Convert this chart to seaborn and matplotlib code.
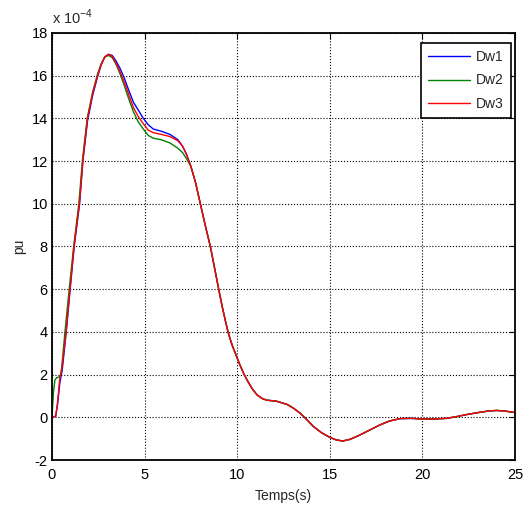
import matplotlib
matplotlib.use("Agg")
import matplotlib.pyplot as plt
import seaborn as sns
import pandas as pd

# time (s) and values in units of 1e-4 pu
# Part where the three curves differ
t_head_13 = [0, 0.2, 0.3, 0.42, 0.55, 0.77, 0.98, 1.2, 1.49, 1.67, 1.92, 2.2, 2.46, 2.65,
             2.85, 3.05, 3.25, 3.45, 3.67, 3.9, 4.15, 4.4, 4.65, 4.93, 5.2, 5.47, 5.9, 6.37,
             6.8, 7.05, 7.27]
dw1_head = [0, 0.05, 0.6, 1.6, 2.2, 4.0, 6.0, 8.0, 10.0, 12.0, 13.9, 15.1, 15.95, 16.5,
            16.88, 17.0, 16.95, 16.7, 16.35, 15.9, 15.3, 14.75, 14.4, 14.0, 13.7, 13.5, 13.4,
            13.25, 13.0, 12.7, 12.3]
dw3_head = [0, 0.05, 0.7, 1.8, 2.4, 4.1, 6.1, 8.1, 10.1, 12.1, 14.0, 15.2, 16.0, 16.5,
            16.88, 17.0, 16.9, 16.6, 16.2, 15.7, 15.1, 14.5, 14.1, 13.75, 13.45, 13.33, 13.25,
            13.15, 12.95, 12.7, 12.3]
t_head_2 = [0, 0.08, 0.16, 0.25, 0.42, 0.5, 0.7, 0.93, 1.17, 1.45, 1.65, 1.9, 2.2, 2.45,
            2.65, 2.85, 3.05, 3.25, 3.45, 3.67, 3.9, 4.15, 4.4, 4.65, 4.93, 5.2, 5.47, 5.9,
            6.37, 6.8, 7.05, 7.27]
dw2_head = [0, 1.2, 1.75, 1.85, 1.9, 2.1, 4.0, 6.0, 8.0, 10.0, 12.1, 14.0, 15.25, 16.05,
            16.55, 16.88, 16.95, 16.85, 16.55, 16.1, 15.55, 14.9, 14.3, 13.85, 13.5, 13.2,
            13.07, 13.0, 12.85, 12.6, 12.4, 12.1]

# Part where the three curves coincide
t_tail = [7.5, 7.75, 8.01, 8.3, 8.55, 8.8, 9.0, 9.2, 9.38, 9.5, 9.62, 9.76, 9.9, 10.1,
          10.35, 10.55, 10.8, 11.07, 11.35, 11.6, 12.1, 12.7, 13.05, 13.4, 13.75, 14.1,
          14.55, 15.0, 15.35, 15.7, 16.1, 16.6, 17.1, 17.7, 18.2, 18.8, 19.4, 20.0, 20.6,
          21.3, 21.9, 22.4, 23.0, 23.6, 24.0, 24.4, 24.7, 25.0]
v_tail = [11.75, 11.0, 10.0, 8.9, 8.0, 6.9, 6.0, 5.15, 4.45, 4.02, 3.66, 3.3, 3.0, 2.55,
          2.05, 1.72, 1.35, 1.05, 0.88, 0.8, 0.76, 0.6, 0.42, 0.19, -0.1, -0.42,
          -0.72, -0.94, -1.06, -1.11, -1.03, -0.84, -0.62, -0.36, -0.18, -0.06, -0.05, -0.08,
          -0.08, -0.05, 0.04, 0.13, 0.22, 0.3, 0.32, 0.3, 0.26, 0.22]

series_names = ["Dw1", "Dw2", "Dw3"]
x_ticks = [0, 5, 10, 15, 20, 25]
y_ticks = [-2, 0, 2, 4, 6, 8, 10, 12, 14, 16, 18]

sns.set_style("white")
plt.rcParams['font.family'] = ['Liberation Sans', 'DejaVu Sans']
plt.rcParams['mathtext.fontset'] = 'custom'
plt.rcParams['mathtext.rm'] = 'Liberation Sans'
plt.rcParams['axes.unicode_minus'] = False

heads = [(t_head_13, dw1_head), (t_head_2, dw2_head), (t_head_13, dw3_head)]
frames = []
for name, (t, v) in zip(series_names, heads):
    frames.append(pd.DataFrame({"t": list(t) + t_tail, "v": list(v) + v_tail, "series": name}))
df = pd.concat(frames, ignore_index=True)

fig = plt.figure(figsize=(5.26, 5.08), dpi=100)
ax = fig.add_axes([52/526, 1 - 460/508, (515-52)/526, (460-33)/508])

palette = {"Dw1": "#0000ff", "Dw2": "#008000", "Dw3": "#ff0000"}
sns.lineplot(data=df, x="t", y="v", hue="series", palette=palette, sort=False,
             estimator=None, linewidth=1.0, ax=ax)

ax.set_xlim(0, 25)
ax.set_ylim(-2, 18)
ax.set_xticks(x_ticks)
ax.set_yticks(y_ticks)
ax.grid(True, linestyle=':', color='black', linewidth=0.8)
ax.tick_params(direction='in', top=True, right=True, length=4, width=0.8,
               labelsize=10.5, colors='black')
ax.tick_params(axis='x', pad=6)
ax.tick_params(axis='y', pad=3)
for s in ax.spines.values():
    s.set_color('black')
    s.set_linewidth(1.3)
ax.set_xlabel("Temps(s)", fontsize=10, labelpad=5)
ax.set_ylabel("pu", fontsize=10, labelpad=4)
ax.text(0.0, 1.015, r"x 10$^{-4}$", transform=ax.transAxes, fontsize=10.5,
        ha='left', va='bottom')

leg = ax.legend(loc='upper right', bbox_to_anchor=(511/526, 1 - 42.7/508),
                bbox_transform=fig.transFigure, fontsize=10, frameon=True,
                fancybox=False, edgecolor='black', framealpha=1,
                handlelength=3.0, handletextpad=0.45, labelspacing=0.7,
                borderpad=0.5, borderaxespad=0)
leg.get_frame().set_linewidth(1.2)

fig.savefig("out.png", dpi=100)
